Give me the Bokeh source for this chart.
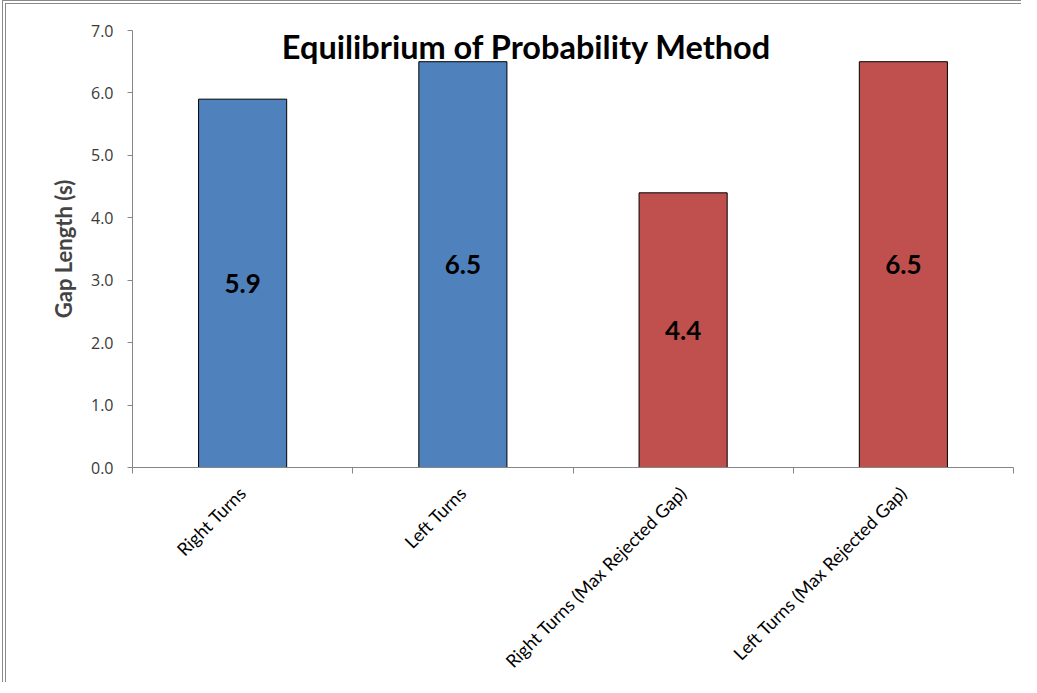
from math import pi
from bokeh.plotting import figure
from bokeh.models import (ColumnDataSource, Range1d, LinearAxis, FixedTicker,
                          NumeralTickFormatter, Label, FactorRange)
from bokeh.core.properties import value
from bokeh.embed import file_html
from bokeh.resources import INLINE

# ---- data ----
categories = ["Right Turns", "Left Turns",
              "Right Turns (Max Rejected Gap)", "Left Turns (Max Rejected Gap)"]
gap_values = [5.9, 6.5, 4.4, 6.5]
bar_colors = ["#4F81BD", "#4F81BD", "#C0504D", "#C0504D"]
y_ticks = [0, 1, 2, 3, 4, 5, 6, 7]
title_text = "Equilibrium of Probability Method"
y_label = "Gap Length (s)"

src = ColumnDataSource(dict(
    cat=categories,
    val=gap_values,
    half=[v / 2 for v in gap_values],
    lab=["%.1f" % v for v in gap_values],
    color=bar_colors,
))

n = len(categories)
p = figure(x_range=FactorRange(*categories), y_range=Range1d(0, 7),
           frame_width=881, frame_height=437, output_backend="svg",
           toolbar_location=None, x_axis_location=None,
           min_border_left=126, min_border_top=26,
           min_border_right=8, min_border_bottom=200)
p.styles = {"border-left": "4px double #8a8a8a", "border-top": "4px double #8a8a8a",
            "margin-left": "2px"}
p.outline_line_color = None
p.xgrid.grid_line_color = None
p.ygrid.grid_line_color = None
p.background_fill_color = "white"

p.vbar(x="cat", top="val", width=0.4, source=src, fill_color="color",
       line_color="black", line_width=1)

p.text(x="cat", y="half", text="lab", source=src, text_align="center",
       text_baseline="middle", text_font=value("Lato"), text_font_style="bold",
       text_font_size="26px", text_color="black")

# y axis
ya = p.yaxis[0]
ya.ticker = FixedTicker(ticks=y_ticks)
ya.formatter = NumeralTickFormatter(format="0.0")
ya.axis_line_color = "#868686"
ya.major_tick_line_color = "#868686"
ya.major_tick_out = 5
ya.major_tick_in = 0
ya.minor_tick_line_color = None
ya.major_label_text_font = "Open Sans"
ya.major_label_text_font_size = "16px"
ya.major_label_text_color = "#3a3a3a"
ya.major_label_standoff = 14
ya.axis_label = y_label
ya.axis_label_text_font = "Lato"
ya.axis_label_text_font_style = "bold"
ya.axis_label_text_font_size = "22px"
ya.axis_label_standoff = 11

# x axis: ticks at category boundaries, labels at category centres
xa = LinearAxis(ticker=FixedTicker(ticks=[i + 0.5 for i in range(n)],
                                   minor_ticks=list(range(n + 1))))
xa.major_label_overrides = {i + 0.5: c for i, c in enumerate(categories)}
xa.major_label_orientation = pi / 4
xa.major_tick_line_color = None
xa.major_tick_out = 0
xa.major_tick_in = 0
xa.minor_tick_out = 6
xa.minor_tick_in = 0
xa.minor_tick_line_color = "#868686"
xa.axis_line_color = "#868686"
xa.major_label_text_font = "Lato"
xa.major_label_text_font_size = "18px"
xa.major_label_text_color = "black"
xa.major_label_standoff = 16
p.add_layout(xa, "below")

p.add_layout(Label(x=1.79, y=6.74, text=title_text,
                   text_align="center", text_baseline="middle",
                   text_font="Lato", text_font_style="bold",
                   text_font_size="32.5px", text_color="black"))

open("out.html", "w").write(file_html(p, INLINE))
